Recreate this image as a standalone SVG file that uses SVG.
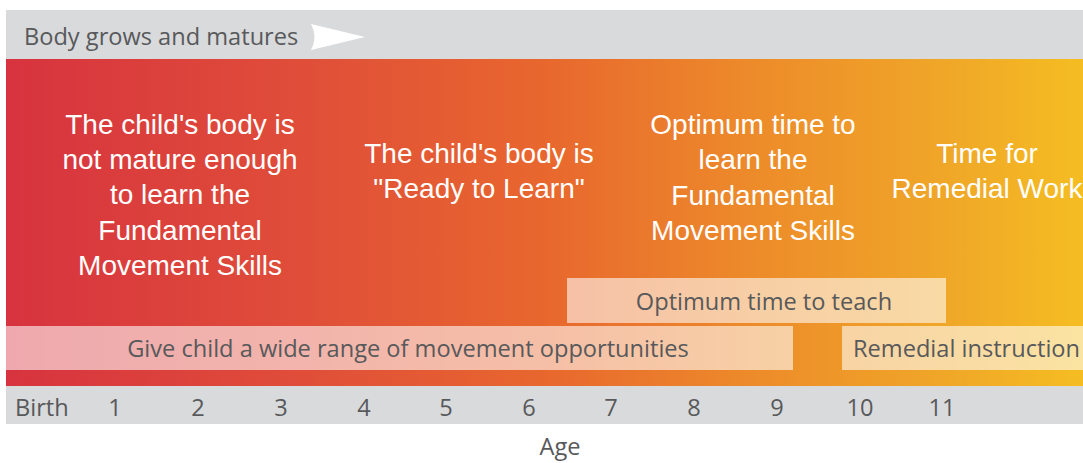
<svg xmlns="http://www.w3.org/2000/svg" width="1083" height="463" viewBox="0 0 1083 463">
<style>
.w{font-family:"Liberation Sans",Arial,sans-serif;font-size:28px;fill:#ffffff;text-anchor:middle}
.g{font-family:"Open Sans","Noto Sans",sans-serif;font-size:23.6px;fill:#58595b}
.gm{font-family:"Open Sans","Noto Sans",sans-serif;font-size:23.6px;fill:#58595b;text-anchor:middle}
.box{fill:#ffffff;opacity:0.58}
</style>
<defs>
<linearGradient id="grad" x1="6" y1="0" x2="1083" y2="0" gradientUnits="userSpaceOnUse">
<stop offset="0" stop-color="#d7333f"/>
<stop offset="0.28" stop-color="#e04e39"/>
<stop offset="0.5" stop-color="#e8672e"/>
<stop offset="0.7" stop-color="#ed8c2a"/>
<stop offset="0.88" stop-color="#f0a828"/>
<stop offset="1" stop-color="#f5bd22"/>
</linearGradient>
</defs>
<rect width="1083" height="463" fill="#ffffff"/>
<g id="top-band">
<rect x="6" y="10" width="1077" height="49" fill="#d9dadc"/>
<text class="g" x="24" y="45">Body grows and matures</text>
<path d="M311,24 L365,37 L311,50 Q318,37 311,24 Z" fill="#ffffff"/>
</g>
<g id="main-band">
<rect x="6" y="59" width="1077" height="327" fill="url(#grad)"/>
</g>
<g id="node-immature">
<text class="w" x="180" y="134">The child's body is</text>
<text class="w" x="180" y="169">not mature enough</text>
<text class="w" x="180" y="204">to learn the</text>
<text class="w" x="180" y="240">Fundamental</text>
<text class="w" x="180" y="275">Movement Skills</text>
</g>
<g id="node-ready">
<text class="w" x="479" y="163">The child's body is</text>
<text class="w" x="479" y="198">"Ready to Learn"</text>
</g>
<g id="node-optimum-learn">
<text class="w" x="753" y="134">Optimum time to</text>
<text class="w" x="753" y="169">learn the</text>
<text class="w" x="753" y="205">Fundamental</text>
<text class="w" x="753" y="240">Movement Skills</text>
</g>
<g id="node-remedial-work">
<text class="w" x="987" y="163">Time for</text>
<text class="w" x="987" y="198">Remedial Work</text>
</g>
<g id="box-teach">
<rect class="box" x="567" y="278" width="379" height="45"/>
<text class="gm" x="764" y="310">Optimum time to teach</text>
</g>
<g id="box-opportunities">
<rect class="box" x="6" y="326" width="787" height="44"/>
<text class="gm" x="408" y="357">Give child a wide range of movement opportunities</text>
</g>
<g id="box-remedial">
<rect class="box" x="842" y="326" width="241" height="44"/>
<text class="g" x="853" y="357">Remedial instruction</text>
</g>
<g id="axis">
<rect x="6" y="386" width="1077" height="38" fill="#d9dadc"/>
<text class="g" x="15" y="416">Birth</text>
<text class="gm" x="115" y="416">1</text>
<text class="gm" x="198" y="416">2</text>
<text class="gm" x="281" y="416">3</text>
<text class="gm" x="364" y="416">4</text>
<text class="gm" x="446" y="416">5</text>
<text class="gm" x="529" y="416">6</text>
<text class="gm" x="611" y="416">7</text>
<text class="gm" x="694" y="416">8</text>
<text class="gm" x="777" y="416">9</text>
<text class="gm" x="860" y="416">10</text>
<text class="gm" x="942" y="416">11</text>
<text class="gm" x="560" y="455">Age</text>
</g>
<g id="connectors"></g>
</svg>
